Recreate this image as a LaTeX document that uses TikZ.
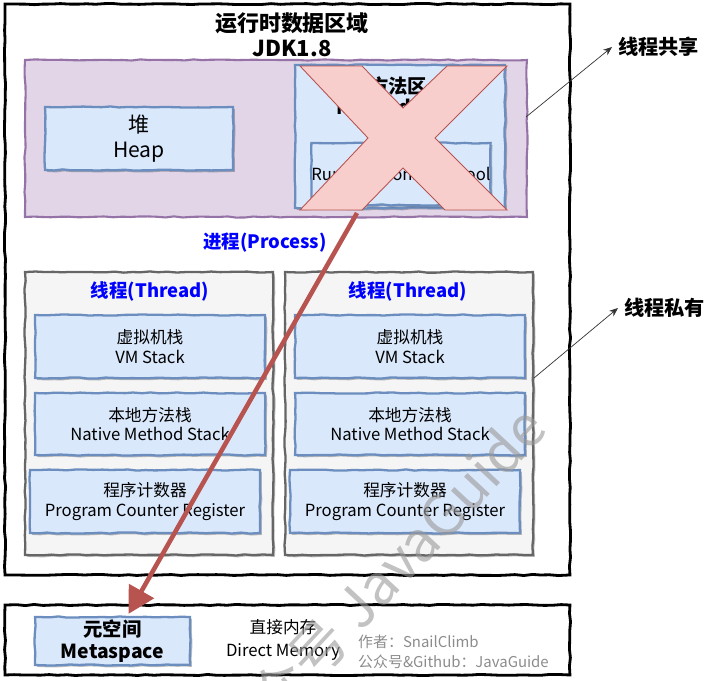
\documentclass[tikz,border=0pt]{standalone}
\usepackage{fontspec}
\setmainfont{Noto Sans CJK SC}
\usetikzlibrary{arrows.meta,decorations.pathmorphing,shadows}

\definecolor{areafill}{HTML}{E1D5E7}
\definecolor{arealine}{HTML}{9673A6}
\definecolor{cellfill}{HTML}{DAE8FC}
\definecolor{cellline}{HTML}{6C8EBF}
\definecolor{threadfill}{HTML}{F5F5F5}
\definecolor{threadline}{HTML}{666666}
\definecolor{crossfill}{HTML}{F8CECC}
\definecolor{crossline}{HTML}{B85450}
\definecolor{procblue}{HTML}{0000FF}

\tikzset{
  sketch/.style={decorate, decoration={random steps, segment length=5pt, amplitude=0.35pt}},
  shade/.style={drop shadow={shadow xshift=1.1pt, shadow yshift=-1.1pt, opacity=0.25, fill=black}},
  frame/.style={sketch, draw=black, line width=1.6pt, inner sep=0pt},
  sharedarea/.style={sketch, draw=arealine, fill=areafill, line width=1.2pt, inner sep=0pt},
  threadbox/.style={sketch, shade, draw=threadline, fill=threadfill, line width=1.3pt, inner sep=0pt},
  cell/.style={sketch, shade, draw=cellline, fill=cellfill, line width=1.3pt, inner sep=0pt,
    align=center, font=\fontsize{9.5}{11}\selectfont},
  bluelabel/.style={text=procblue, font=\fontsize{10.5}{12}\selectfont\bfseries},
  sidelabel/.style={font=\fontsize{11.5}{13}\selectfont\bfseries, anchor=west},
  pointer/.style={-{Stealth[length=5pt,width=4pt]}, thin, black!80},
}

\begin{document}
\begin{tikzpicture}[x=0.02cm, y=-0.02cm]
\pgfmathsetseed{11}
\useasboundingbox (0,0) rectangle (713,680);

% runtime data area
\node[frame, minimum width=11.3cm, minimum height=11.42cm] (runtime) at (287.5,289.5) {};
\node[align=center, font=\fontsize{12.5}{14}\selectfont\bfseries] (title) at (292,35) {运行时数据区域\\JDK1.8};

% shared part
\node[sharedarea, minimum width=10.04cm, minimum height=3.14cm] (shared) at (276,138.5) {};
\node[cell, minimum width=3.76cm, minimum height=1.26cm, font=\fontsize{12}{14}\selectfont] (heap) at (139,138.5) {堆\\Heap};
\node[cell, minimum width=4.2cm, minimum height=2.86cm] (method) at (400,136.5) {};
\node[align=center, font=\fontsize{11}{12}\selectfont\bfseries] (methodtext) at (398,96) {方法区\\Method Area};
\node[cell, minimum width=3.56cm, minimum height=1.24cm] (pool) at (401,174) {\raisebox{-4pt}{Runtime Constant Pool}};

% removed in 1.8
\draw[crossline, fill=crossfill, line width=0.5pt]
  (300,66) -- (362,66) -- (403,108) -- (447,66) -- (507,66) -- (435,138) -- (507,210)
  -- (445,210) -- (403,168) -- (362,210) -- (300,210) -- (368,138) -- cycle;
\coordinate (xfoot) at (357,213);

\node[bluelabel] (process) at (265,243) {进程(Process)};

% threads
\node[threadbox, minimum width=4.96cm, minimum height=5.66cm] (threadL) at (149,413.5) {};
\node[threadbox, minimum width=4.96cm, minimum height=5.66cm] (threadR) at (409,413.5) {};
\node[bluelabel] (threadLtext) at (150,291) {线程(Thread)};
\node[bluelabel] (threadRtext) at (408,291) {线程(Thread)};

\node[cell, minimum width=4.6cm, minimum height=1.26cm] (vmL) at (150,346.5) {虚拟机栈\\VM Stack};
\node[cell, minimum width=4.6cm, minimum height=1.24cm] (nativeL) at (150,424) {本地方法栈\\Native Method Stack};
\node[cell, minimum width=4.6cm, minimum height=1.26cm] (pcL) at (145,501.5) {程序计数器\\Program Counter Register};
\node[cell, minimum width=4.6cm, minimum height=1.26cm] (vmR) at (410,346.5) {虚拟机栈\\VM Stack};
\node[cell, minimum width=4.6cm, minimum height=1.24cm] (nativeR) at (410,424) {本地方法栈\\Native Method Stack};
\node[cell, minimum width=4.6cm, minimum height=1.26cm] (pcR) at (405,501.5) {程序计数器\\Program Counter Register};

% native memory
\node[frame, minimum width=11.3cm, minimum height=1.4cm] (native) at (287.5,640) {};
\node[cell, minimum width=3.1cm, minimum height=0.96cm, font=\fontsize{11}{12.5}\selectfont\bfseries] (meta) at (112.5,641) {元空间\\Metaspace};
\node[align=center, font=\fontsize{9.5}{13}\selectfont] (direct) at (283,640) {直接内存\\Direct Memory};
\node[anchor=west, align=left, text=black!45, font=\fontsize{8.5}{11.3}\selectfont] (author) at (352,652) {作者：SnailClimb\\公众号\&Github：JavaGuide};

% moved to metaspace
\draw[crossline, line width=2.6pt, -{Triangle[length=15pt,width=16pt]}] (xfoot) -- ([xshift=0.32cm,yshift=0.04cm]meta.north);

% side notes
\node[sidelabel] (sharenote) at (612,47) {线程共享};
\node[sidelabel] (privnote) at (618,308) {线程私有};
\coordinate (sharept) at (526,117);
\coordinate (privpt) at (534,378);
\draw[pointer] (sharept) -- (sharenote.west);
\draw[pointer] (privpt) -- (privnote.west);

% watermark
\node[rotate=47, anchor=east, text=black!40, opacity=0.6, font=\fontsize{32}{34}\selectfont] (wmark) at (538,412) {公众号 JavaGuide};
\end{tikzpicture}
\end{document}
